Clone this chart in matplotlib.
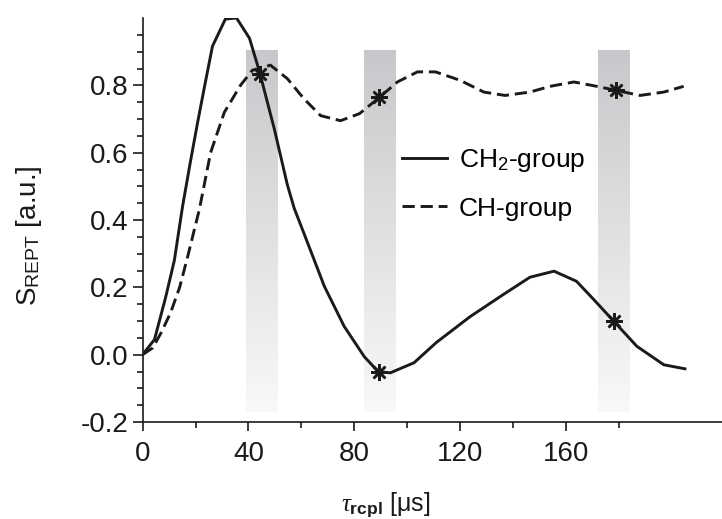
import numpy as np
import matplotlib
matplotlib.use("Agg")
import matplotlib.pyplot as plt
from matplotlib.colors import LinearSegmentedColormap

plt.rcParams['font.family'] = ['Liberation Sans', 'DejaVu Sans']
plt.rcParams['mathtext.fontset'] = 'custom'
plt.rcParams['mathtext.rm'] = 'Liberation Sans'
plt.rcParams['mathtext.it'] = 'Liberation Serif:italic'
plt.rcParams['mathtext.bf'] = 'Liberation Sans:bold'

# CH2-group (solid)
ch2_x = [0, 4.5, 8.7, 12, 15.1, 18, 20.8, 23.5, 26.4, 31.3, 35.5, 40.4, 44.2, 49.8,
         54.7, 57.3, 61, 68.7, 76.2, 83.8, 89, 93.6, 102.6, 111, 123.8, 136.6, 146.4,
         155.5, 164, 170.5, 178, 186.8, 197, 205]
ch2_y = [0, 0.045, 0.17, 0.28, 0.44, 0.57, 0.69, 0.80, 0.916, 0.997, 1.0, 0.94, 0.84, 0.67,
         0.505, 0.435, 0.36, 0.203, 0.084, -0.006, -0.05, -0.054, -0.024, 0.036, 0.113, 0.18, 0.23,
         0.248, 0.218, 0.164, 0.1, 0.025, -0.03, -0.042]

# CH-group (dashed)
ch_x = [0, 3.8, 7, 10.6, 14, 17, 21.5, 25.7, 30.9, 37, 41.5, 44.5, 48.3, 54.7, 61, 67.3,
        74.8, 82, 89.5, 96.3, 103.9, 110.7, 120, 129, 137, 146.4, 154, 163, 171.7, 179,
        188, 197, 204.5]
ch_y = [0, 0.02, 0.065, 0.125, 0.2, 0.29, 0.433, 0.6, 0.72, 0.80, 0.845, 0.85, 0.86, 0.82, 0.76, 0.71,
        0.695, 0.716, 0.764, 0.81, 0.84, 0.84, 0.815, 0.78, 0.77, 0.78, 0.797, 0.81, 0.797, 0.785,
        0.77, 0.78, 0.797]

# asterisk markers
mark_x = [44.5, 89.2, 89.5, 178, 179]
mark_y = [0.835, -0.05, 0.764, 0.1, 0.785]

# shaded windows
band_centers = [45.2, 89.5, 178.3]
band_width = 12
band_bottom = -0.17
band_top = 0.905

fig = plt.figure(figsize=(7.22, 5.19), dpi=100)
ax = fig.add_axes([0.1975, 0.1869, 0.8025, 0.7784])

grad_cmap = LinearSegmentedColormap.from_list('band', [(0.975, 0.975, 0.975), (0.78, 0.785, 0.795)])
grad = np.linspace(0, 1, 256).reshape(-1, 1)
for c in band_centers:
    ax.imshow(grad, cmap=grad_cmap, origin='lower', aspect='auto', zorder=1,
              extent=[c - band_width / 2, c + band_width / 2, band_bottom, band_top])

ax.plot(ch2_x, ch2_y, color='#1a1a1a', lw=2.1, label='CH$_2$-group', zorder=3)
ax.plot(ch_x, ch_y, color='#1a1a1a', lw=2.1, ls=(0, (4.2, 2.0)), label='CH-group', zorder=3)
ax.plot(mark_x, mark_y, ls='none', marker=(8, 2, 0), ms=12, mew=1.8, color='#1a1a1a', zorder=4)

ax.set_xlim(0, 219)
ax.set_ylim(-0.2, 1.0)
ax.set_xticks([0, 40, 80, 120, 160])
ax.set_xticks([20, 60, 100, 140, 180], minor=True)
ax.set_yticks([-0.2, 0.0, 0.2, 0.4, 0.6, 0.8])
ax.set_yticks(np.arange(-0.15, 0.96, 0.05), minor=True)
ax.set_yticklabels(['-0.2', '0.0', '0.2', '0.4', '0.6', '0.8'])

for s in ['top', 'right']:
    ax.spines[s].set_visible(False)
for s in ['left', 'bottom']:
    ax.spines[s].set_linewidth(1.2)
    ax.spines[s].set_color('#1a1a1a')

ax.tick_params(axis='y', which='major', direction='out', length=7.5, width=1.2, labelsize=20, pad=3, colors='#1a1a1a')
ax.tick_params(axis='y', which='minor', direction='out', length=4, width=1.2, colors='#1a1a1a')
ax.tick_params(axis='x', which='major', direction='out', length=6.5, width=1.2, labelsize=20, pad=7, colors='#1a1a1a')
ax.tick_params(axis='x', which='minor', direction='out', length=4.3, width=1.2, colors='#1a1a1a')

ax.set_ylabel('S$_{\\mathrm{REPT}}$ [a.u.]', fontsize=20, color='#1a1a1a')
ax.yaxis.set_label_coords(-0.17, 0.46)
ax.set_xlabel('$\\tau_{\\mathbf{rcpl}}$ [μs]', fontsize=18, color='#1a1a1a')
ax.xaxis.set_label_coords(0.42, -0.17)

ax.legend(loc='upper left', bbox_to_anchor=(0.448, 0.68), frameon=False, fontsize=19,
          handlelength=1.7, handletextpad=0.45, borderpad=0, labelspacing=0.85, borderaxespad=0)

fig.savefig('out.png', dpi=100)
